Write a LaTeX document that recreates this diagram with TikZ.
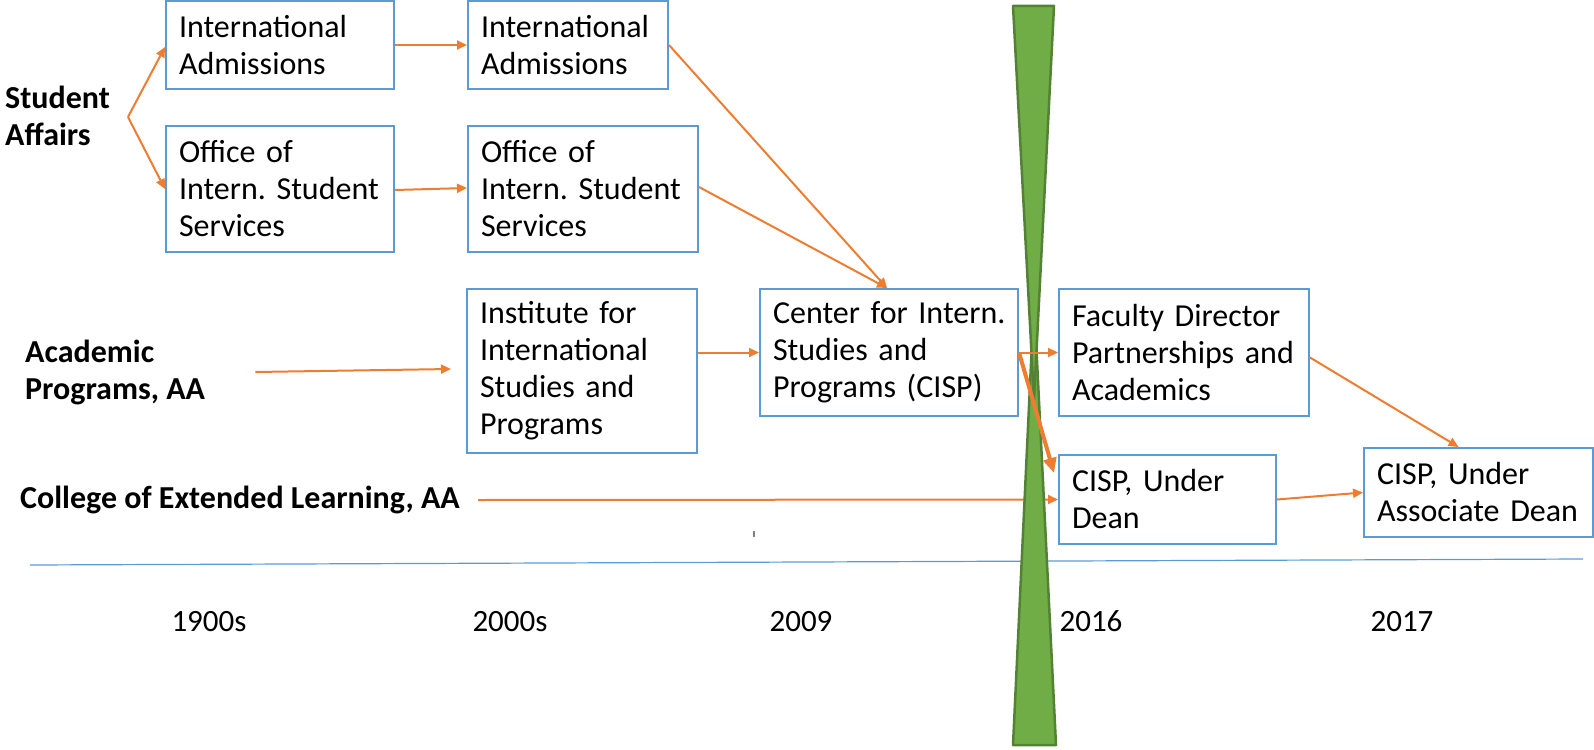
\documentclass[tikz,border=0pt]{standalone}
\usepackage{fontspec}
\setmainfont{Carlito}
\frenchspacing
\usetikzlibrary{arrows.meta,calc}
\definecolor{bxblue}{HTML}{5B9BD5}
\definecolor{arrorange}{HTML}{ED7D31}
\definecolor{hgreen}{HTML}{70AD47}
\definecolor{hgreendark}{HTML}{548235}
\tikzset{
  bx/.style={draw=bxblue, line width=2pt, fill=white, align=left, inner xsep=13pt, inner ysep=0pt, font=\fontsize{32}{37}\selectfont\frenchspacing},
  lbl/.style={font=\fontsize{32}{37}\selectfont\bfseries\frenchspacing, align=left, inner sep=0pt, anchor=west},
  yr/.style={font=\fontsize{31}{37}\selectfont, inner sep=0pt, anchor=base},
  arr/.style={draw=arrorange, line width=2pt, -{Triangle[length=10pt,width=9pt]}},
  arrthick/.style={draw=arrorange, line width=4pt, -{Triangle[length=15pt,width=13pt]}},
  tline/.style={draw=bxblue, line width=1.2pt},
  glass/.style={fill=hgreen, draw=hgreendark, line width=2.5pt, line join=round},
}
\begin{document}
\begin{tikzpicture}[x=1pt,y=-1pt]
\useasboundingbox (0,0) rectangle (1594,749);

% boxes
\node[bx, minimum width=228pt, minimum height=88pt, text width=202pt] (ia1) at (280,45) {International\\Admissions};
\node[bx, minimum width=228pt, minimum height=126pt, text width=202pt] (oiss1) at (280,189) {Office of\\\mbox{Intern. Student}\\Services};
\node[bx, minimum width=200pt, minimum height=88pt, text width=174pt] (ia2) at (568,45) {International\\Admissions};
\node[bx, minimum width=230pt, minimum height=126pt, text width=204pt] (oiss2) at (583,189) {Office of\\\mbox{Intern. Student}\\Services};
\node[bx, minimum width=230pt, minimum height=164pt, text width=204pt] (inst) at (582,371) {\mbox{Institute for}\\International\\\mbox{Studies and}\\Programs};
\node[bx, minimum width=258pt, minimum height=127pt, text width=232pt] (cisp) at (889,352.5) {\mbox{Center for Intern.}\\\mbox{Studies and}\\\mbox{Programs (CISP)}};
\node[bx, minimum width=250pt, minimum height=127pt, text width=224pt] (fac) at (1184,352.5) {\mbox{Faculty Director}\\\mbox{Partnerships and}\\Academics};
\node[bx, minimum width=217pt, minimum height=89pt, text width=191pt] (dean) at (1167.5,499.5) {\mbox{CISP, Under}\\Dean};
\node[bx, minimum width=229pt, minimum height=89pt, text width=203pt] (assoc) at (1478.5,492.5) {\mbox{CISP, Under}\\\mbox{Associate Dean}};

% row labels
\node[lbl] (sa) at (5,116) {Student\\Affairs};
\node[lbl] (ap) at (25,372) {Academic\\\mbox{Programs, AA}};
\node[lbl] (cel) at (20,500) {College of Extended Learning, AA};

% years
\node[yr] (y1) at (209,631) {1900s};
\node[yr] (y2) at (510,631) {2000s};
\node[yr] (y3) at (801,631) {2009};
\node[yr] (y4) at (1091,631) {2016};
\node[yr] (y5) at (1402,631) {2017};

% timeline and tick
\coordinate (tlA) at (30,565);
\coordinate (tlB) at (1583,559);
\draw[tline] (tlA) -- (tlB);
\coordinate (tkA) at (754,531);
\coordinate (tkB) at (754,537);
\draw[draw=gray, line width=1.5pt] (tkA) -- (tkB);

% arrow under the green marker
\draw[arr] ([xshift=18pt]cel.east) -- (dean.west);

% green hourglass marker
\coordinate (gTL) at (1013,6);
\coordinate (gTR) at (1054,6);
\coordinate (gTA) at (1034,400);
\coordinate (gBL) at (1013,745);
\coordinate (gBR) at (1056,745);
\coordinate (gBA) at (1034,300);
\draw[glass] (gBL) -- (gBR) -- (gBA) -- cycle;
\draw[glass] (gTL) -- (gTR) -- (gTA) -- cycle;

% student affairs branch
\coordinate (br) at (128,117);
\draw[arr] (br) -- ([yshift=-2pt]ia1.west);
\draw[arr] (br) -- (oiss1.west);

% connectors
\draw[arr] (ia1.east) -- (ia2.west);
\draw[arr] ([yshift=-1pt]oiss1.east) -- ([yshift=1pt]oiss2.west);
\draw[arr] (ia2.east) -- ([xshift=-2pt]cisp.north);
\draw[arr] ([yshift=2pt]oiss2.east) -- ([xshift=-2pt]cisp.north);
\draw[arr] ([xshift=50pt]ap.east) -- ([xshift=-15pt,yshift=2pt]inst.west);
\draw[arr] (inst.east |- cisp.west) -- (cisp.west);
\draw[arr] (cisp.east) -- (fac.west);
\draw[arrthick] (cisp.east) -- ([xshift=-4pt,yshift=-19pt]dean.north west);
\draw[arr] ([yshift=-5pt]fac.east) -- ([xshift=-20pt]assoc.north);
\draw[arr] (dean.east) -- (assoc.west);
\end{tikzpicture}
\end{document}
